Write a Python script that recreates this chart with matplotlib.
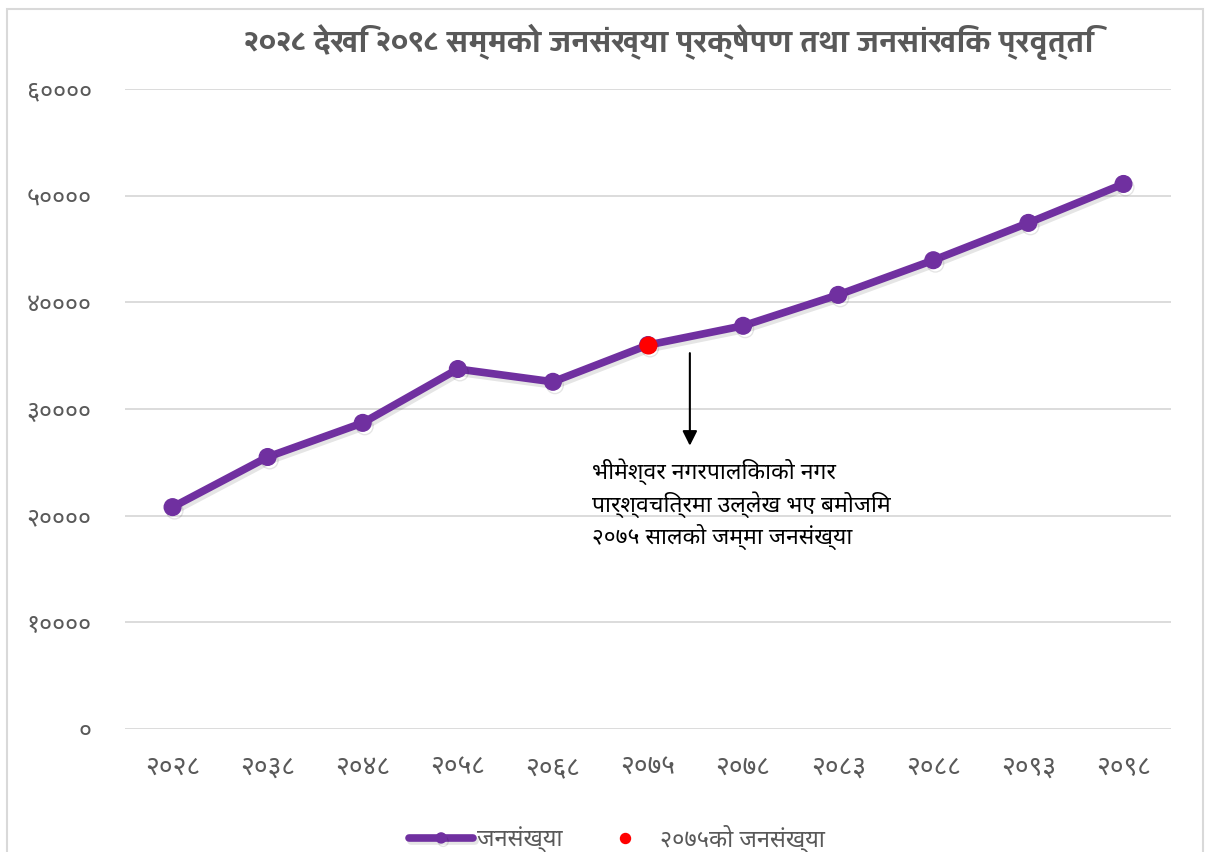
import matplotlib
matplotlib.use("Agg")
import matplotlib.pyplot as plt
import matplotlib.patheffects as pe
from matplotlib import font_manager

years = ["२०२८", "२०३८", "२०४८", "२०५८", "२०६८", "२०७५",
         "२०७८", "२०८३", "२०८८", "२०९३", "२०९८"]
population = [20800, 25500, 28700, 33750, 32550, 36000,
              37800, 40700, 43950, 47450, 51100]
highlight_year = "२०७५"
y_ticks = [0, 10000, 20000, 30000, 40000, 50000, 60000]
y_tick_labels = ["०", "१००००", "२००००", "३००००", "४००००", "५००००", "६००००"]

title = "२०२८ देखि २०९८ सम्मको जनसंख्या प्रक्षेपण तथा जनसांखिक प्रवृत्ति"
note = "भीमेश्वर नगरपालिकाको नगर\nपार्श्वचित्रमा उल्लेख भए बमोजिम\n२०७५ सालको जम्मा जनसंख्या"
series_label = "जनसंख्या"
point_label = "२०७५को जनसंख्या"

installed = {f.name for f in font_manager.fontManager.ttflist}


def pick(*names):
    # keep only installed families, DejaVu last for anything missing
    return [n for n in names if n in installed] + ["DejaVu Sans"]


title_font = pick("Yantramanav", "Khand", "Noto Sans Devanagari", "FreeSans")
tick_font = pick("Noto Sans Devanagari", "Mukta", "FreeSans")
note_font = pick("Noto Sans Devanagari", "FreeSans")

fig = plt.figure(figsize=(12.1, 8.52), dpi=100)
ax = fig.add_axes([0.1033, 0.1444, 0.8645, 0.7511])

# outer chart border
fig.patches.append(plt.Rectangle((0.006, -0.01), 0.988, 1.0, transform=fig.transFigure,
                                 fill=False, edgecolor="#d9d9d9", linewidth=1.5))

x = list(range(len(years)))
ax.plot(x, population, color="#7030A0", linewidth=5.5, marker="o", markersize=12,
        solid_capstyle="round", label=series_label, zorder=3,
        path_effects=[pe.SimpleLineShadow(offset=(1.5, -2.5), alpha=0.1), pe.Normal()])

hi = years.index(highlight_year)
ax.plot([hi], [population[hi]], linestyle="none", marker="o", markersize=12,
        color="#FF0000", label=point_label, zorder=4)

# arrow + note
ax.annotate("", xy=(5.44, 26300), xytext=(5.44, 35500),
            arrowprops=dict(arrowstyle="-|>", color="black", lw=1.5, mutation_scale=22))
ax.text(4.41, 25400, note, fontsize=16.5, color="black", va="top", ha="left",
        linespacing=1.3, family=note_font)

ax.set_xlim(-0.5, len(years) - 0.5)
ax.set_ylim(0, 60000)
ax.set_xticks(x)
ax.set_xticklabels(years, family=tick_font, fontsize=19)
ax.set_yticks(y_ticks)
ax.set_yticklabels(y_tick_labels, family=tick_font, fontsize=18, fontweight="semibold")
ax.tick_params(axis="both", length=0, colors="#595959")
ax.tick_params(axis="x", pad=18)
ax.tick_params(axis="y", pad=24)
ax.grid(axis="y", color="#d9d9d9", linewidth=1.3)
ax.set_axisbelow(True)
for s in ax.spines.values():
    s.set_visible(False)

fig.text(0.553, 0.951, title, ha="center", va="center", fontsize=23,
         fontweight="bold", color="#595959", family=title_font)

fig.legend(loc="center", bbox_to_anchor=(0.51, 0.016), ncol=2, frameon=False,
           prop={"family": tick_font, "size": 17}, labelcolor="#595959",
           handlelength=2.7, handletextpad=0.15, columnspacing=1.3, markerscale=0.6)

fig.savefig("out.png", dpi=100)
